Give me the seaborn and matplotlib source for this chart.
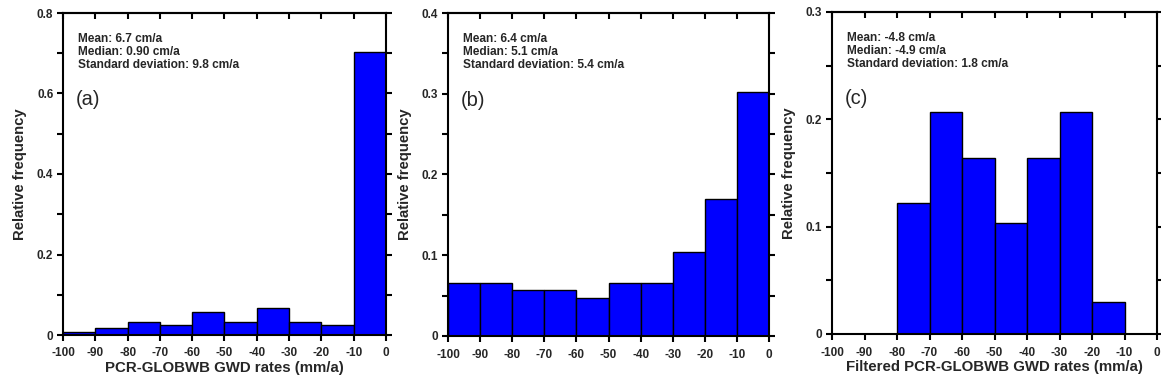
import numpy as np
import pandas as pd
import matplotlib
matplotlib.use("Agg")
import matplotlib.pyplot as plt
import seaborn as sns
from matplotlib.ticker import MultipleLocator, FuncFormatter

sns.set_theme(style="white")
plt.rcParams['font.family'] = ['Liberation Sans', 'DejaVu Sans']

# bin edges (mm/a)
bin_edges = [-100, -90, -80, -70, -60, -50, -40, -30, -20, -10, 0]

# relative frequencies per bin
freq_a = [0.008, 0.017, 0.033, 0.024, 0.058, 0.032, 0.066, 0.032, 0.024, 0.703]
freq_b = [0.066, 0.066, 0.057, 0.057, 0.047, 0.066, 0.066, 0.104, 0.170, 0.302]
freq_c = [0.0, 0.0, 0.122, 0.207, 0.164, 0.103, 0.164, 0.207, 0.030, 0.0]

stats_a = ["Mean: 6.7 cm/a", "Median: 0.90 cm/a", "Standard deviation: 9.8 cm/a"]
stats_b = ["Mean: 6.4 cm/a", "Median: 5.1 cm/a", "Standard deviation: 5.4 cm/a"]
stats_c = ["Mean: -4.8 cm/a", "Median: -4.9 cm/a", "Standard deviation: 1.8 cm/a"]

panel_labels = ["(a)", "(b)", "(c)"]
xlabels = ["PCR-GLOBWB GWD rates (mm/a)", "", "Filtered PCR-GLOBWB GWD rates (mm/a)"]
ylims = [0.8, 0.4, 0.3]
ymajor = [0.2, 0.1, 0.1]
xtick_vals = [-100, -90, -80, -70, -60, -50, -40, -30, -20, -10, 0]

fig = plt.figure(figsize=(11.61, 3.88), dpi=100)
positions = [
    [63 / 1161, 1 - 335 / 388, 323 / 1161, 322 / 388],
    [448 / 1161, 1 - 336 / 388, 321 / 1161, 323 / 388],
    [832 / 1161, 1 - 334 / 388, 325 / 1161, 322 / 388],
]

centers = [(bin_edges[i] + bin_edges[i + 1]) / 2 for i in range(len(bin_edges) - 1)]
all_freq = [freq_a, freq_b, freq_c]
all_stats = [stats_a, stats_b, stats_c]


def yfmt(v, pos):
    if abs(v) < 1e-9:
        return "0"
    return f"{v:g}"


for i in range(3):
    ax = fig.add_axes(positions[i])
    df = pd.DataFrame({"x": centers, "w": all_freq[i]})
    df = df[df["w"] > 0]
    sns.histplot(data=df, x="x", weights="w", bins=bin_edges, ax=ax,
                 color="#0000FF", edgecolor="black", linewidth=1.0,
                 alpha=1.0, stat="count")
    ax.set_xlim(-100, 0)
    ax.set_ylim(0, ylims[i])
    ax.set_xticks(xtick_vals)
    ax.set_xticklabels([str(v) for v in xtick_vals], fontweight="bold", fontsize=8.5)
    ax.yaxis.set_major_locator(MultipleLocator(ymajor[i]))
    ax.yaxis.set_minor_locator(MultipleLocator(ymajor[i] / 2))
    ax.yaxis.set_major_formatter(FuncFormatter(yfmt))
    for lab in ax.get_yticklabels():
        lab.set_fontweight("bold")
        lab.set_fontsize(8.5)
    ax.tick_params(axis="y", which="both", direction="out", left=True, right=True,
                   labelright=False, length=4, width=1.5, color="black", pad=3)
    ax.tick_params(axis="x", which="both", direction="out", bottom=True, top=False,
                   length=4, width=1.5, color="black", pad=5)
    sec = ax.secondary_xaxis("top")
    sec.set_xticks(xtick_vals)
    sec.tick_params(direction="in", labeltop=False, length=4, width=1.5, color="black")
    sec.spines["top"].set_linewidth(1.5)
    for sp in ax.spines.values():
        sp.set_linewidth(1.5)
        sp.set_color("black")
        sp.set_visible(True)
    ax.set_ylabel("Relative frequency", fontsize=10.7, fontweight="bold", labelpad=7)
    ax.set_xlabel(xlabels[i], fontsize=10.8, fontweight="bold", labelpad=1)
    ax.text(0.047, 0.937, "\n".join(all_stats[i]), transform=ax.transAxes,
            fontsize=8.6, fontweight="bold", va="top", ha="left", linespacing=1.1)
    ax.text(0.04, 0.73, panel_labels[i], transform=ax.transAxes,
            fontsize=14.5, va="center", ha="left")
    ax.grid(False)

fig.savefig("out.png", dpi=100)
